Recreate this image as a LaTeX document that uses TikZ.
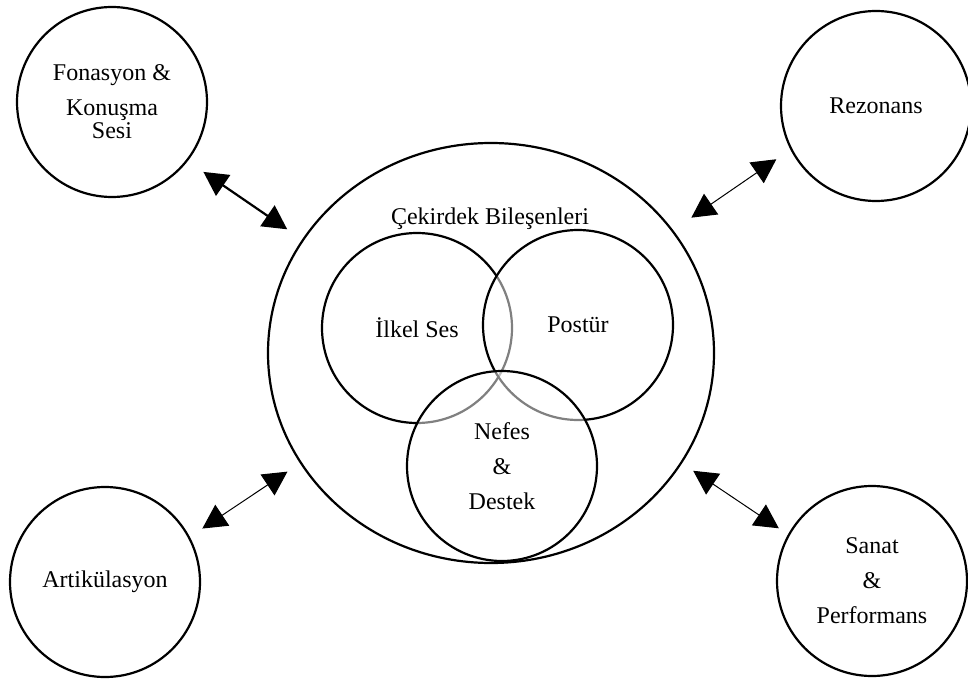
\documentclass[tikz,border=0pt]{standalone}
\usepackage{fontspec}
\setmainfont{Liberation Serif}
\usetikzlibrary{arrows.meta, shapes.geometric}

\begin{document}
\begin{tikzpicture}[x=0.5pt, y=-0.5pt, font=\fontsize{12}{14}\selectfont,
		bubble/.style={circle, draw, line width=1.1pt, minimum size=95pt, inner sep=0pt, align=center},
		link/.style={{Triangle[length=12pt,width=12.5pt]}-{Triangle[length=12pt,width=12.5pt]}, line width=0.5pt}]
			\useasboundingbox (0,0) rectangle (968,679);
			\node (core) at (491,353) [ellipse, draw, line width=1.1pt, minimum width=223pt, minimum height=210pt, inner sep=0pt] {};
			\node (title) at (490,225) [anchor=base] {Çekirdek Bileşenleri};
			\node (ilkel) at (417,328) [bubble] {İlkel Ses};
			\node (postur) at (578,325) [bubble, fill=white, fill opacity=0.5, text opacity=1] {Postür};
			\node (nefes) at (502,466) [bubble, fill=white, fill opacity=0.5, text opacity=1] {Nefes\\[3.5pt]\&\\[3.5pt]Destek};
			
			\node (fon) at (112,102) [bubble] {Fonasyon \&\\[3.5pt]Konuşma\\[-2.5pt]Sesi};
			\node (rez) at (876,106) [bubble] {Rezonans};
			\node (art) at (105,582) [bubble] {Artikülasyon};
			\node (san) at (872,581) [bubble] {Sanat\\[3.5pt]\&\\[3.5pt]Performans};
			
			\draw[link, line width=1.1pt, shorten <=9.5pt, shorten >=9pt] (fon.-38) -- (core.149);
			\draw[link, shorten <=8.5pt, shorten >=11pt] (rez.207) -- (core.34);
			\draw[link, shorten <=7.5pt, shorten >=7.5pt] (art.28) -- (core.210);
			\draw[link, shorten <=5.5pt, shorten >=6.7pt] (san.151) -- (core.-30);
		\end{tikzpicture}
\end{document}
